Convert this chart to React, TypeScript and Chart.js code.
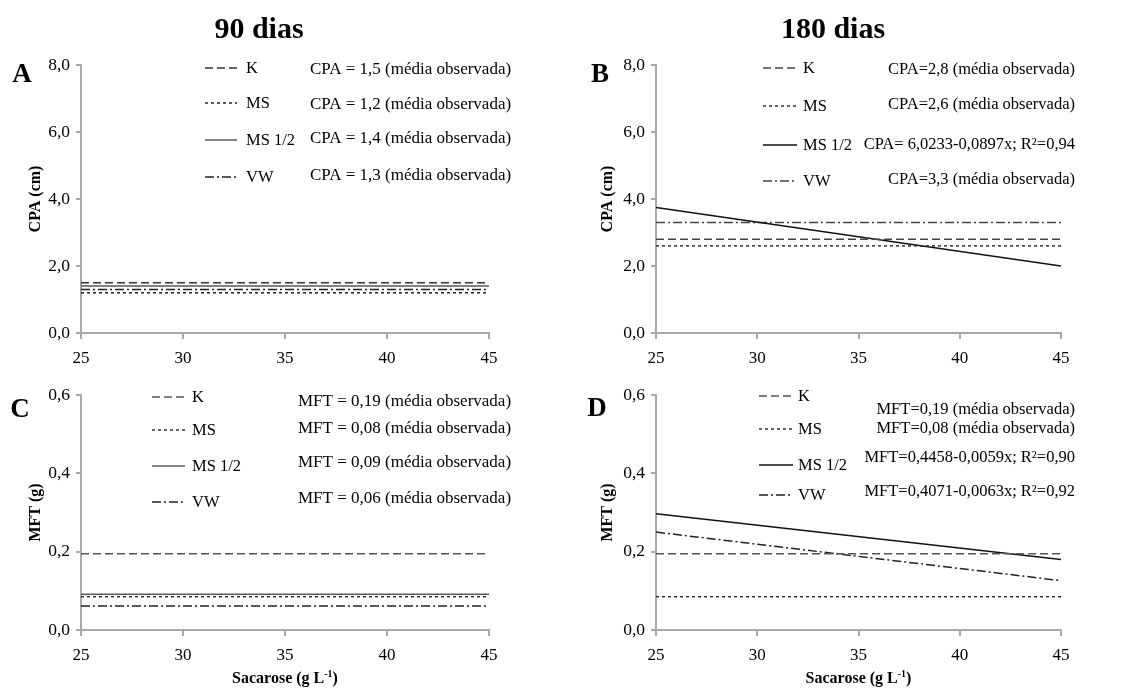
import React, { useEffect, useRef } from "react";
import { Chart, registerables } from "chart.js";

Chart.register(...registerables);

// ---------- DATA ----------
const sacarose = [25, 45];
const xTicks = [25, 30, 35, 40, 45];
const seriesNames = ["K", "MS", "MS 1/2", "VW"];
const cpaTicks = [0, 2, 4, 6, 8];
const mftTicks = [0, 0.2, 0.4, 0.6];

// A: CPA 90 dias
const cpa90K = [1.5, 1.5];
const cpa90MS = [1.2, 1.2];
const cpa90MSHalf = [1.4, 1.4];
const cpa90VW = [1.3, 1.3];

// B: CPA 180 dias
const cpa180K = [2.8, 2.8];
const cpa180MS = [2.6, 2.6];
const cpa180MSHalf = [3.75, 2.0];
const cpa180VW = [3.3, 3.3];

// C: MFT 90 dias
const mft90K = [0.195, 0.195];
const mft90MS = [0.085, 0.085];
const mft90MSHalf = [0.091, 0.091];
const mft90VW = [0.061, 0.061];

// D: MFT 180 dias
const mft180K = [0.195, 0.195];
const mft180MS = [0.085, 0.085];
const mft180MSHalf = [0.297, 0.18];
const mft180VW = [0.25, 0.126];

const eqA = [
  "CPA = 1,5 (média observada)",
  "CPA = 1,2 (média observada)",
  "CPA = 1,4 (média observada)",
  "CPA = 1,3 (média observada)",
];
const eqB = [
  "CPA=2,8 (média observada)",
  "CPA=2,6 (média observada)",
  "CPA= 6,0233-0,0897x; R²=0,94",
  "CPA=3,3 (média observada)",
];
const eqC = [
  "MFT = 0,19 (média observada)",
  "MFT = 0,08 (média observada)",
  "MFT = 0,09 (média observada)",
  "MFT = 0,06 (média observada)",
];
const eqD = [
  "MFT=0,19 (média observada)",
  "MFT=0,08 (média observada)",
  "MFT=0,4458-0,0059x; R²=0,90",
  "MFT=0,4071-0,0063x; R²=0,92",
];

// ---------- STYLE / LAYOUT ----------
const SERIF = "'Liberation Serif', 'Times New Roman', Times, serif";
const AXIS = "#a9a9a9";
const dashes = [[8, 4], [3, 3], [], [9, 3, 2, 3]];

type Panel = {
  left: number; top: number; width: number; height: number;
  area: [number, number, number, number];
  yTitle: string; yTicks: number[]; yDecimals: number;
  series: number[][]; colors: string[];
  sx1: number; sx2: number; lx: number; rowY: number[];
  eqX: number; eqAlign: CanvasTextAlign; eqY: number[]; eqTexts: string[]; eqSize: number;
  xTitle: boolean; yTitleX: number;
};

const panels: Panel[] = [
  {
    left: 0, top: 40, width: 560, height: 330, area: [81, 65, 489, 333],
    yTitle: "CPA (cm)", yTicks: cpaTicks, yDecimals: 1,
    series: [cpa90K, cpa90MS, cpa90MSHalf, cpa90VW],
    colors: ["#333", "#222", "#5a5a5a", "#222"],
    sx1: 205, sx2: 237, lx: 246, rowY: [68, 103, 140, 177],
    eqX: 310, eqAlign: "left", eqY: [70, 105, 139, 176], eqTexts: eqA, eqSize: 17,
    xTitle: false, yTitleX: 36,
  },
  {
    left: 560, top: 40, width: 564, height: 330, area: [656, 65, 1061, 333],
    yTitle: "CPA (cm)", yTicks: cpaTicks, yDecimals: 1,
    series: [cpa180K, cpa180MS, cpa180MSHalf, cpa180VW],
    colors: ["#444", "#333", "#111", "#444"],
    sx1: 763, sx2: 797, lx: 803, rowY: [68, 106, 145, 181],
    eqX: 1075, eqAlign: "right", eqY: [70, 105, 145, 180], eqTexts: eqB, eqSize: 16.5,
    xTitle: false, yTitleX: 608,
  },
  {
    left: 0, top: 370, width: 560, height: 318, area: [81, 395, 489, 630],
    yTitle: "MFT (g)", yTicks: mftTicks, yDecimals: 1,
    series: [mft90K, mft90MS, mft90MSHalf, mft90VW],
    colors: ["#555", "#333", "#5a5a5a", "#222"],
    sx1: 152, sx2: 185, lx: 192, rowY: [397, 430, 466, 502],
    eqX: 298, eqAlign: "left", eqY: [402, 429, 463, 499], eqTexts: eqC, eqSize: 17,
    xTitle: true, yTitleX: 36,
  },
  {
    left: 560, top: 370, width: 564, height: 318, area: [656, 395, 1061, 630],
    yTitle: "MFT (g)", yTicks: mftTicks, yDecimals: 1,
    series: [mft180K, mft180MS, mft180MSHalf, mft180VW],
    colors: ["#555", "#333", "#111", "#222"],
    sx1: 759, sx2: 793, lx: 798, rowY: [396, 429, 465, 495],
    eqX: 1075, eqAlign: "right", eqY: [410, 429, 458, 492], eqTexts: eqD, eqSize: 16.5,
    xTitle: true, yTitleX: 608,
  },
];

function PanelChart({ p }: { p: Panel }) {
  const ref = useRef<HTMLCanvasElement | null>(null);
  useEffect(() => {
    if (!ref.current) return;
    const [L, T, R, B] = p.area;
    const overlay = {
      id: "overlay",
      afterDraw(chart: any) {
        const ctx: CanvasRenderingContext2D = chart.ctx;
        ctx.save();
        for (let i = 0; i < 4; i++) {
          const y = p.rowY[i] - p.top;
          ctx.beginPath();
          ctx.setLineDash(dashes[i]);
          ctx.strokeStyle = p.colors[i];
          ctx.lineWidth = 1.5;
          ctx.moveTo(p.sx1 - p.left, y);
          ctx.lineTo(p.sx2 - p.left, y);
          ctx.stroke();
          ctx.setLineDash([]);
          ctx.fillStyle = "#000";
          ctx.textBaseline = "middle";
          ctx.textAlign = "left";
          ctx.font = `16.5px ${SERIF}`;
          ctx.fillText(seriesNames[i], p.lx - p.left, y + 1);
          ctx.font = `${p.eqSize}px ${SERIF}`;
          ctx.textAlign = p.eqAlign;
          ctx.fillText(p.eqTexts[i], p.eqX - p.left, p.eqY[i] - p.top);
        }
        if (p.xTitle) {
          const cx = chart.chartArea.left + (chart.chartArea.right - chart.chartArea.left) / 2;
          const y = 679 - p.top;
          const big = `bold 16px ${SERIF}`;
          const small = `bold 10px ${SERIF}`;
          const parts: [string, string, number][] = [
            ["Sacarose (g L", big, 0],
            ["-1", small, -5],
            [")", big, 0],
          ];
          let total = 0;
          for (const [t, f] of parts) { ctx.font = f; total += ctx.measureText(t).width; }
          let x = cx - total / 2;
          ctx.textAlign = "left";
          ctx.textBaseline = "middle";
          ctx.fillStyle = "#000";
          for (const [t, f, dy] of parts) {
            ctx.font = f;
            ctx.fillText(t, x, y + dy);
            x += ctx.measureText(t).width;
          }
        }
        ctx.restore();
      },
    };
    const chart = new Chart(ref.current, {
      type: "scatter",
      data: {
        datasets: p.series.map((s, i) => ({
          label: seriesNames[i],
          data: sacarose.map((x, j) => ({ x, y: s[j] })),
          showLine: true,
          borderColor: p.colors[i],
          borderWidth: 1.5,
          borderDash: dashes[i],
          pointRadius: 0,
          pointHoverRadius: 0,
          fill: false,
        })),
      },
      options: {
        responsive: false,
        animation: false,
        events: [],
        layout: {
          padding: { left: 0, top: T - p.top, right: p.left + p.width - R, bottom: 0 },
        },
        plugins: { legend: { display: false }, tooltip: { enabled: false }, title: { display: false } },
        scales: {
          x: {
            type: "linear",
            min: 25,
            max: 45,
            afterFit: (s: any) => { s.height = p.top + p.height - B; },
            afterBuildTicks: (s: any) => { s.ticks = xTicks.map((v) => ({ value: v })); },
            ticks: {
              color: "#000",
              font: { family: SERIF, size: 17 },
              padding: 9,
              maxRotation: 0,
              callback: (v: any) => String(v),
            },
            grid: { drawOnChartArea: false, drawTicks: true, tickLength: 6, color: AXIS, lineWidth: 2 },
            border: { color: AXIS, width: 2 },
          },
          y: {
            type: "linear",
            min: p.yTicks[0],
            max: p.yTicks[p.yTicks.length - 1],
            afterFit: (s: any) => { s.width = L - p.left; },
            afterBuildTicks: (s: any) => { s.ticks = p.yTicks.map((v) => ({ value: v })); },
            ticks: {
              color: "#000",
              font: { family: SERIF, size: 17.5 },
              padding: 6,
              callback: (v: any) => Number(v).toFixed(p.yDecimals).replace(".", ","),
            },
            grid: { drawOnChartArea: false, drawTicks: true, tickLength: 5, color: AXIS, lineWidth: 2 },
            border: { color: AXIS, width: 2 },
            title: {
              display: true,
              text: p.yTitle,
              color: "#000",
              font: { family: SERIF, size: 16, weight: "bold" },
              padding: { top: p.yTitleX - p.left - 9.6, bottom: 0 },
            },
          },
        },
      },
      plugins: [overlay],
    } as any);
    return () => chart.destroy();
  }, [p]);
  return (
    <canvas
      ref={ref}
      width={p.width}
      height={p.height}
      style={{ position: "absolute", left: p.left, top: p.top, width: p.width, height: p.height }}
    />
  );
}

const labelStyle = (x: number, y: number, size: number): React.CSSProperties => ({
  position: "absolute",
  left: x,
  top: y,
  transform: "translate(-50%, -50%)",
  fontFamily: SERIF,
  fontWeight: "bold",
  fontSize: size,
  lineHeight: 1,
  whiteSpace: "nowrap",
  color: "#000",
});

export default function App() {
  return (
    <div style={{ position: "fixed", left: 0, top: 0, width: 1124, height: 688, background: "#fff", overflow: "hidden" }}>
      {panels.map((p, i) => (
        <PanelChart key={i} p={p} />
      ))}
      <div style={labelStyle(259, 28, 30)}>90 dias</div>
      <div style={labelStyle(833, 28, 30)}>180 dias</div>
      <div style={labelStyle(22, 73, 27)}>A</div>
      <div style={labelStyle(600, 73, 27)}>B</div>
      <div style={labelStyle(20, 408, 27)}>C</div>
      <div style={labelStyle(597, 407, 27)}>D</div>
    </div>
  );
}
